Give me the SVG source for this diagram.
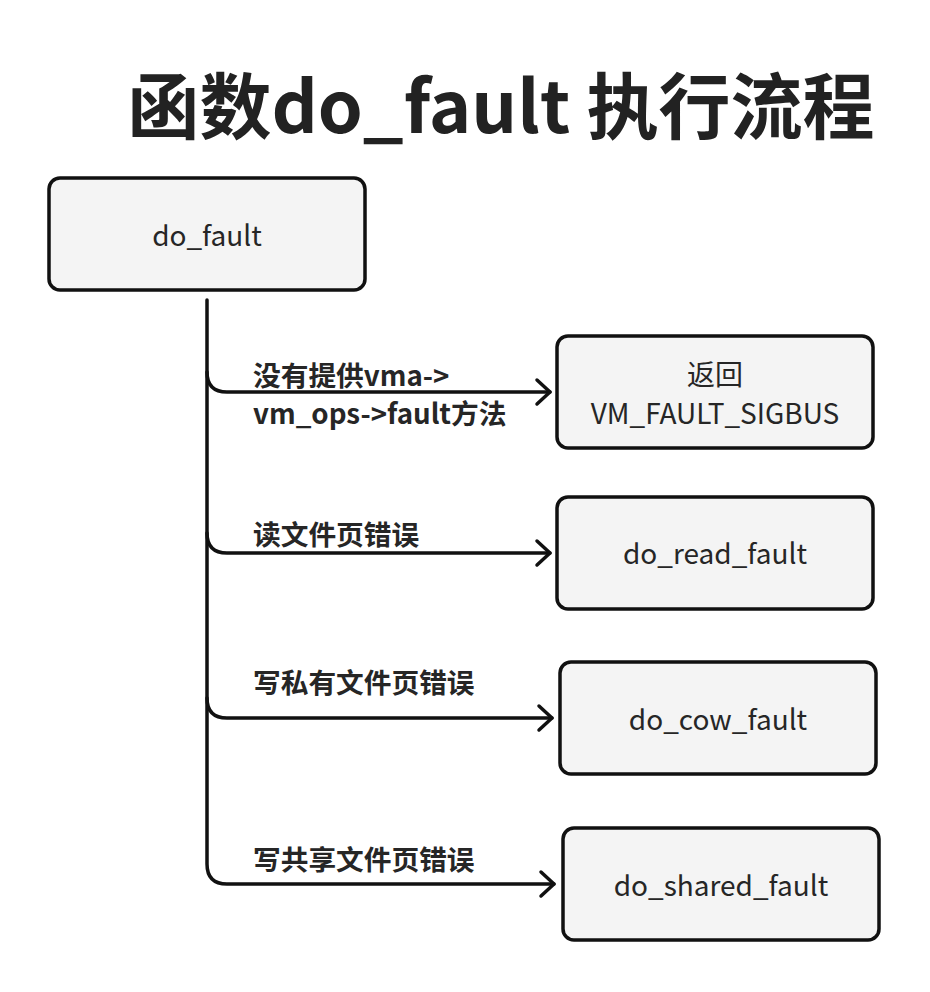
<svg xmlns="http://www.w3.org/2000/svg" width="930" height="992" viewBox="0 0 930 992">
<defs>
<style>
.box{fill:#f4f4f4;stroke:#111;stroke-width:3.5}
.bt{font-family:"Noto Sans CJK SC","Noto Sans",sans-serif;font-size:28px;fill:#262626;text-anchor:middle}
.lb{font-family:"Noto Sans CJK SC","Noto Sans",sans-serif;font-size:27.7px;font-weight:bold;fill:#262626}
.ttl{font-family:"Noto Sans CJK SC","Noto Sans",sans-serif;font-size:72px;font-weight:bold;fill:#222;text-anchor:middle}
.cn{fill:none;stroke:#111;stroke-width:3.5;stroke-linecap:round;stroke-linejoin:round}
</style>
<marker id="ah" viewBox="0 0 20 30" refX="17" refY="15" markerWidth="20" markerHeight="30" markerUnits="userSpaceOnUse" orient="auto">
<path d="M4,3 L17,15 L4,27" fill="none" stroke="#111" stroke-width="3.5" stroke-linecap="round" stroke-linejoin="round"/>
</marker>
</defs>
<rect width="930" height="992" fill="#fff"/>
<text class="ttl" x="501" y="133">函数do_fault 执行流程</text>
<g id="connectors">
<path class="cn" d="M207,300 L207,372 Q207,392 227,392 L550,392" marker-end="url(#ah)"/>
<path class="cn" d="M207,372 L207,533 Q207,553 227,553 L550,553" marker-end="url(#ah)"/>
<path class="cn" d="M207,533 L207,698 Q207,718 227,718 L552,718" marker-end="url(#ah)"/>
<path class="cn" d="M207,698 L207,864 Q207,884 227,884 L554,884" marker-end="url(#ah)"/>
<text class="lb" x="253" y="386">没有提供vma-&gt;</text>
<text class="lb" x="253" y="424">vm_ops-&gt;fault方法</text>
<text class="lb" x="253" y="545">读文件页错误</text>
<text class="lb" x="253" y="693">写私有文件页错误</text>
<text class="lb" x="253" y="870">写共享文件页错误</text>
</g>
<g id="do_fault">
<rect class="box" x="49" y="178" width="316" height="112" rx="11"/>
<text class="bt" x="207" y="246">do_fault</text>
</g>
<g id="sigbus">
<rect class="box" x="557" y="336" width="316" height="112" rx="11"/>
<text class="bt" x="715" y="385">返回</text>
<text class="bt" x="715" y="424">VM_FAULT_SIGBUS</text>
</g>
<g id="do_read_fault">
<rect class="box" x="557" y="497" width="316" height="112" rx="11"/>
<text class="bt" x="715" y="564">do_read_fault</text>
</g>
<g id="do_cow_fault">
<rect class="box" x="560" y="662" width="316" height="112" rx="11"/>
<text class="bt" x="718" y="730">do_cow_fault</text>
</g>
<g id="do_shared_fault">
<rect class="box" x="563" y="828" width="316" height="112" rx="11"/>
<text class="bt" x="721" y="896">do_shared_fault</text>
</g>
</svg>
